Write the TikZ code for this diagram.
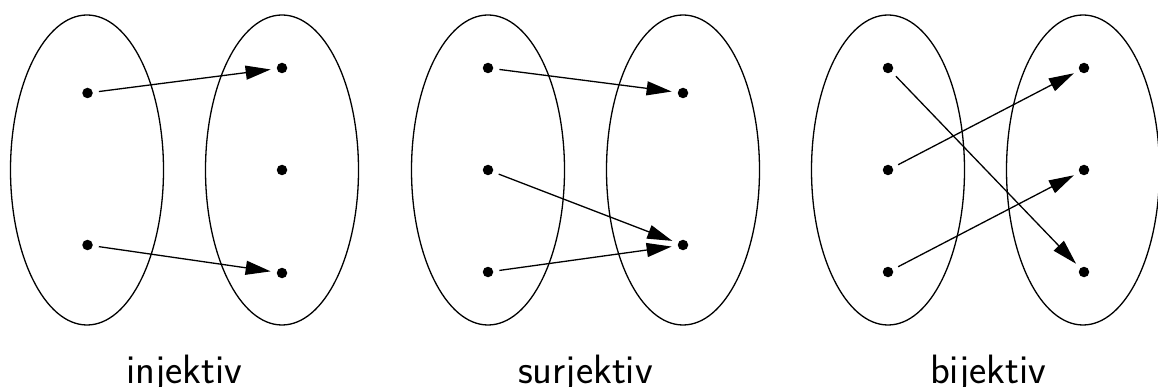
\documentclass[tikz,border=0pt]{standalone}
\usetikzlibrary{arrows.meta}
\begin{document}
\begin{tikzpicture}[x=1pt,y=-1pt,
  setshape/.style={draw,line width=1.3pt},
  pt/.style={circle,fill,inner sep=0pt,minimum size=10.5pt},
  map/.style={line width=1.3pt,-{Triangle[length=25pt,width=14pt]},shorten >=6pt,shorten <=6pt},
  lbl/.style={anchor=base,font=\fontsize{41}{41}\selectfont\sffamily}]
\useasboundingbox (0,0) rectangle (1158,387);
% panel 1
\draw[setshape] (87,170) ellipse [x radius=76.5,y radius=155];
\draw[setshape] (282,170) ellipse [x radius=76.5,y radius=155];
\node[pt] (a1) at (87.5,93) {};
\node[pt] (a2) at (87.5,245) {};
\node[pt] (b1) at (282,68) {};
\node[pt] (b2) at (282,170) {};
\node[pt] (b3) at (282,273) {};
\draw[map] (a1) -- (b1);
\draw[map] (a2) -- (b3);
\node[lbl] (l1) at (184.5,383) {injektiv};
% panel 2
\draw[setshape] (488,170) ellipse [x radius=76.5,y radius=155];
\draw[setshape] (683,170) ellipse [x radius=76.5,y radius=155];
\node[pt] (c1) at (488,68) {};
\node[pt] (c2) at (488,170) {};
\node[pt] (c3) at (488,272) {};
\node[pt] (d1) at (683,93) {};
\node[pt] (d2) at (683,245) {};
\draw[map] (c1) -- (d1);
\draw[map] (c2) -- (d2);
\draw[map] (c3) -- (d2);
\node[lbl] (l2) at (585.5,383) {surjektiv};
% panel 3
\draw[setshape] (888,170) ellipse [x radius=76.5,y radius=155];
\draw[setshape] (1083,170) ellipse [x radius=76.5,y radius=155];
\node[pt] (e1) at (888,68) {};
\node[pt] (e2) at (888,170) {};
\node[pt] (e3) at (888,272) {};
\node[pt] (f1) at (1084,68) {};
\node[pt] (f2) at (1084,170) {};
\node[pt] (f3) at (1084,272) {};
\draw[map] (e1) -- (f3);
\draw[map] (e2) -- (f1);
\draw[map] (e3) -- (f2);
\node[lbl] (l3) at (988,383) {bijektiv};
\end{tikzpicture}
\end{document}
